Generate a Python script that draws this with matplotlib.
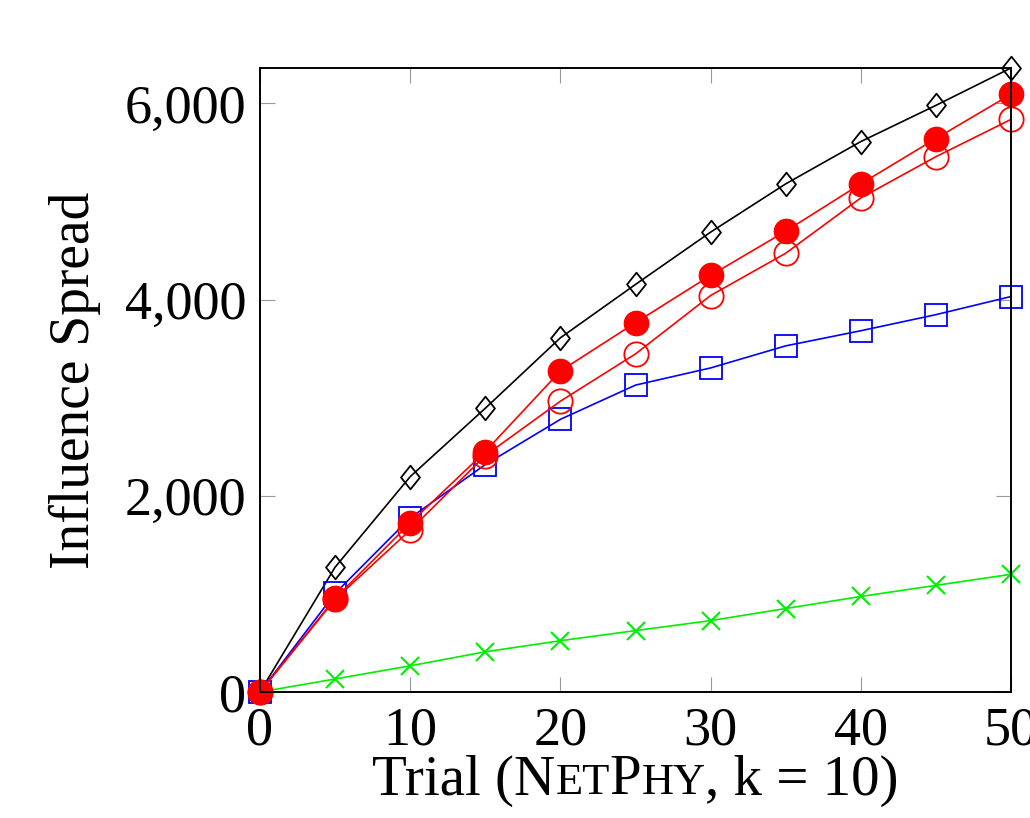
import matplotlib.pyplot as plt
from matplotlib.path import Path
from matplotlib.ticker import FuncFormatter, MultipleLocator
from matplotlib.offsetbox import TextArea, HPacker, AnchoredOffsetbox

# dane
trial = [0, 5, 10, 15, 20, 25, 30, 35, 40, 45, 50]
black_diamond = [0, 1272, 2195, 2892, 3610, 4154, 4687, 5179, 5610, 5979, 6360]
red_filled = [0, 954, 1723, 2451, 3272, 3764, 4246, 4697, 5179, 5641, 6092]
red_open = [0, 944, 1651, 2410, 2964, 3446, 4041, 4472, 5036, 5456, 5836]
blue_square = [0, 1005, 1774, 2318, 2779, 3128, 3303, 3528, 3682, 3846, 4031]
green_x = [0, 133, 267, 410, 523, 626, 728, 851, 974, 1087, 1200]

y_ticks = [0, 2000, 4000, 6000]
x_ticks = [0, 10, 20, 30, 40, 50]

FONT = 'Liberation Serif'
plt.rcParams['font.family'] = FONT

fig = plt.figure(figsize=(10.3, 8.18), dpi=100)
ax = fig.add_axes([0.2524, 0.154, 0.7292, 0.7629])

diamond = Path([(0, 1), (0.8, 0), (0, -1), (-0.8, 0), (0, 1)],
               [Path.MOVETO, Path.LINETO, Path.LINETO, Path.LINETO, Path.CLOSEPOLY])

lw = 1.2
ax.plot(trial, green_x, color='#00ee00', lw=lw, marker='x', ms=13, mew=1.5, clip_on=False)
ax.plot(trial, black_diamond, color='black', lw=lw, marker=diamond, ms=17, mfc='none', mew=1.3, clip_on=False)
ax.plot(trial, blue_square, color='blue', lw=lw, marker='s', ms=15.5, mfc='none', mew=1.3, clip_on=False)
ax.plot(trial, red_open, color='red', lw=lw, marker='o', ms=17.5, mfc='none', mew=1.3, clip_on=False)
ax.plot(trial, red_filled, color='red', lw=lw, marker='o', ms=17.5, mfc='red', mew=1.0, clip_on=False)

ax.set_xlim(0, 50)
ax.set_ylim(0, 6360)
ax.set_xticks(x_ticks)
ax.set_yticks(y_ticks)
ax.yaxis.set_major_formatter(FuncFormatter(lambda v, p: f"{int(v):,}"))
ax.xaxis.set_major_locator(MultipleLocator(10))

ax.tick_params(direction='in', length=11, width=0.8, color='#999999',
               labelsize=39, top=True, right=True, pad=10)
for s in ax.spines.values():
    s.set_linewidth(1.4)

ax.set_ylabel("Influence Spread", fontsize=40, labelpad=17)

# podpis osi X z kapitalikami
big = 41
small = 32
parts = [("Trial (N", big), ("ET", small), ("P", big), ("HY", small), (", k = 10)", big)]
boxes = [TextArea(t, textprops=dict(fontsize=sz, family=FONT)) for t, sz in parts]
pack = HPacker(children=boxes, align="baseline", pad=0, sep=0)
anch = AnchoredOffsetbox(loc='upper center', child=pack, pad=0, frameon=False,
                         bbox_to_anchor=(0.5, -0.1), bbox_transform=ax.transAxes,
                         borderpad=0)
ax.add_artist(anch)

fig.savefig("out.png", dpi=100)
